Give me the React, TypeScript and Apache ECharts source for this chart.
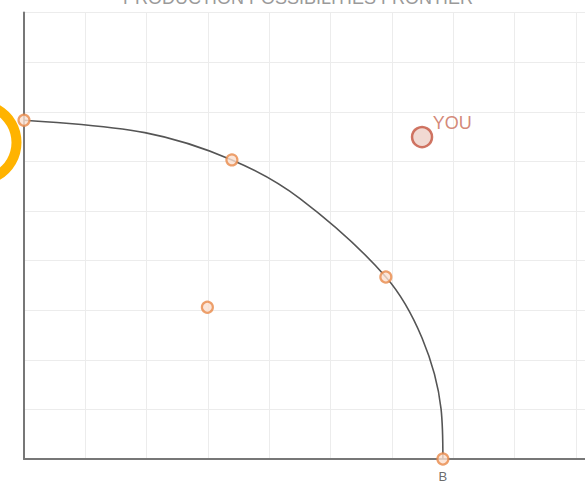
import React, { useEffect, useRef } from "react";
import * as echarts from "echarts";

// Frontier curve (grid units)
const frontierX = [0, 1.97, 3.39, 4.5, 5.9, 6.49, 6.8, 6.83];
const frontierY = [6.83, 6.58, 6.03, 5.25, 3.67, 2.44, 1.01, 0];

// Marked points
const pointX = [0, 3.39, 5.9, 6.83, 2.99];
const pointY = [6.83, 6.03, 3.67, 0, 3.06];
const pointLabels = ["", "", "", "B", ""];

// "You" point
const youX = [6.49];
const youY = [6.49];
const youLabel = "YOU";

const titleText = "PRODUCTION POSSIBILITIES FRONTIER";

export default function App() {
  const ref = useRef<HTMLDivElement>(null);
  useEffect(() => {
    if (!ref.current) return;
    const chart = echarts.init(ref.current, undefined, { renderer: "svg" });
    const font = "Liberation Sans, Arial, sans-serif";
    chart.setOption({
      animation: false,
      grid: { left: 24, top: 12.6, bottom: 22, right: 0, containLabel: false },
      xAxis: {
        type: "value",
        min: 0,
        max: 9.147,
        interval: 1,
        axisLine: { show: true, lineStyle: { color: "#777", width: 2 } },
        axisTick: { show: false },
        axisLabel: { show: false },
        splitLine: { show: true, lineStyle: { color: "#ececec", width: 1 } },
      },
      yAxis: {
        type: "value",
        min: 0,
        max: 9,
        interval: 1,
        axisLine: { show: true, lineStyle: { color: "#777", width: 2 } },
        axisTick: { show: false },
        axisLabel: { show: false },
        splitLine: { show: true, lineStyle: { color: "#ececec", width: 1 } },
      },
      graphic: [
        {
          type: "text",
          x: 298,
          y: 7,
          style: {
            text: titleText,
            fill: "#9a9a9a",
            font: "18px " + font,
            textAlign: "center",
            textVerticalAlign: "bottom",
          },
        },
        {
          type: "ring",
          z: 100,
          shape: { cx: -21.5, cy: 142.5, r: 43, r0: 33 },
          style: { fill: "#FFB300" },
        },
      ],
      series: [
        {
          type: "line",
          data: frontierX.map((x, i) => [x, frontierY[i]]),
          smooth: 0.34,
          showSymbol: false,
          lineStyle: { color: "#555", width: 1.6 },
          z: 2,
        },
        {
          type: "scatter",
          data: pointX.map((x, i) => ({
            value: [x, pointY[i]],
            label: {
              show: pointLabels[i] !== "",
              formatter: pointLabels[i],
              position: "bottom",
              distance: 4,
              color: "#444",
              fontSize: 13,
              fontFamily: font,
            },
          })),
          symbol: "circle",
          symbolSize: 11,
          itemStyle: { color: "#FBE0D0", borderColor: "#E8894A", borderWidth: 2.2 },
          z: 3,
        },
        {
          type: "scatter",
          data: youX.map((x, i) => [x, youY[i]]),
          symbol: "circle",
          symbolSize: 20,
          itemStyle: { color: "#EDCFC7", borderColor: "#C4543E", borderWidth: 2.5 },
          label: {
            show: true,
            formatter: youLabel,
            position: [22, -12],
            color: "#C96A55",
            fontSize: 18,
            fontFamily: font,
          },
          z: 3,
        },
      ],
    });
    return () => chart.dispose();
  }, []);
  return (
    <div
      ref={ref}
      style={{ position: "fixed", left: 0, top: 0, width: 585, height: 481, background: "#fff" }}
    />
  );
}
